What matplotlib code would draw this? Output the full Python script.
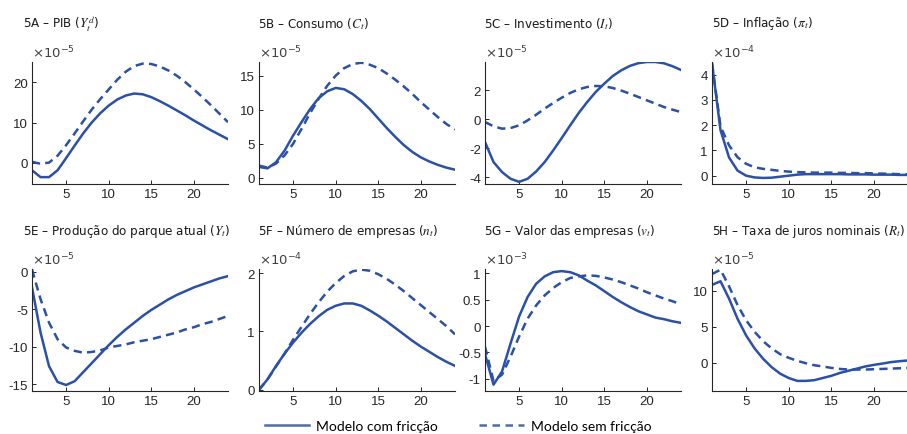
import numpy as np
import matplotlib
matplotlib.use("Agg")
import matplotlib.pyplot as plt
from matplotlib.lines import Line2D
from matplotlib import font_manager as fm

plt.rcParams["axes.unicode_minus"] = False
plt.rcParams["mathtext.fontset"] = "stix"

periodos = np.arange(1, 25)

# ====================== DADOS (respostas a impulso) ======================
# 5A - PIB (x 1e-5)
pib_com = [-1.8, -3.5, -3.5, -1.8, 1.2, 4.3, 7.3, 10.0, 12.3, 14.2, 15.7, 16.7,
           17.2, 17.0, 16.3, 15.3, 14.2, 13.0, 11.8, 10.5, 9.3, 8.1, 7.0, 5.9]
pib_sem = [0.3, -0.2, 0.1, 1.8, 4.4, 7.3, 10.3, 13.2, 15.8, 18.2, 20.6, 22.6,
           24.0, 24.6, 24.5, 23.9, 22.9, 21.6, 20.0, 18.2, 16.3, 14.3, 12.2, 10.1]

# 5B - Consumo (x 1e-5)
cons_com = [1.6, 1.4, 2.3, 4.0, 6.2, 8.2, 10.1, 11.7, 12.7, 13.2, 13.0, 12.3,
            11.3, 10.1, 8.7, 7.3, 6.0, 4.8, 3.8, 3.0, 2.4, 1.9, 1.5, 1.2]
cons_sem = [1.8, 1.5, 2.1, 3.3, 5.0, 7.2, 9.5, 11.6, 13.5, 15.0, 16.1, 16.7,
            16.9, 16.6, 16.1, 15.3, 14.4, 13.4, 12.3, 11.1, 10.0, 8.9, 7.9, 7.1]

# 5C - Investimento (x 1e-5)
inv_com = [-1.56, -2.94, -3.63, -4.09, -4.3, -4.09, -3.59, -2.94, -2.14, -1.29,
           -0.41, 0.44, 1.2, 1.89, 2.46, 2.99, 3.38, 3.68, 3.87, 3.95, 3.95,
           3.86, 3.66, 3.4]
inv_sem = [-0.18, -0.48, -0.64, -0.6, -0.41, -0.07, 0.32, 0.74, 1.13, 1.49,
           1.82, 2.07, 2.23, 2.3, 2.28, 2.16, 1.98, 1.77, 1.54, 1.31, 1.08,
           0.85, 0.67, 0.5]

# 5D - Inflação (x 1e-4)
infl_com = [4.45, 1.8, 0.72, 0.2, 0.0, -0.07, -0.09, -0.08, -0.04, 0.0, 0.04,
            0.06, 0.06, 0.06, 0.06, 0.06, 0.05, 0.05, 0.05, 0.04, 0.04, 0.04,
            0.03, 0.03]
infl_sem = [4.45, 1.95, 1.2, 0.73, 0.47, 0.33, 0.27, 0.23, 0.19, 0.16, 0.14,
            0.13, 0.12, 0.12, 0.12, 0.11, 0.11, 0.1, 0.1, 0.09, 0.08, 0.07,
            0.06, 0.05]

# 5E - Produção do parque atual (x 1e-5)
prod_com = [-2.1, -8.1, -12.6, -14.7, -15.1, -14.6, -13.4, -12.2, -11.0, -9.8,
            -8.7, -7.7, -6.8, -5.9, -5.1, -4.4, -3.7, -3.1, -2.6, -2.1, -1.7,
            -1.3, -0.9, -0.6]
prod_sem = [0.27, -3.65, -6.8, -9.0, -10.1, -10.55, -10.8, -10.7, -10.5, -10.1,
            -9.9, -9.7, -9.4, -9.2, -9.0, -8.7, -8.4, -8.1, -7.7, -7.4, -7.0,
            -6.7, -6.3, -5.9]

# 5F - Número de empresas (x 1e-4)
nemp_com = [0.0, 0.18, 0.41, 0.62, 0.81, 0.98, 1.13, 1.26, 1.37, 1.44, 1.48,
            1.48, 1.44, 1.36, 1.27, 1.17, 1.06, 0.95, 0.84, 0.74, 0.65, 0.56,
            0.48, 0.41]
nemp_sem = [0.0, 0.18, 0.4, 0.62, 0.86, 1.08, 1.3, 1.5, 1.68, 1.83, 1.95, 2.03,
            2.06, 2.04, 1.98, 1.9, 1.8, 1.69, 1.57, 1.45, 1.33, 1.21, 1.09, 0.95]

# 5G - Valor das empresas (x 1e-3)
valor_com = [-0.53, -1.11, -0.86, -0.33, 0.18, 0.55, 0.8, 0.94, 1.02, 1.04,
             1.02, 0.96, 0.86, 0.77, 0.66, 0.55, 0.45, 0.36, 0.28, 0.22, 0.16,
             0.13, 0.09, 0.06]
valor_sem = [-0.39, -1.04, -0.92, -0.58, -0.2, 0.14, 0.39, 0.58, 0.72, 0.83,
             0.91, 0.94, 0.96, 0.95, 0.92, 0.88, 0.83, 0.77, 0.71, 0.64, 0.58,
             0.52, 0.47, 0.41]

# 5H - Taxa de juros nominais (x 1e-5)
juros_com = [10.8, 11.3, 8.9, 6.1, 3.8, 2.0, 0.56, -0.6, -1.5, -2.1, -2.5, -2.5,
             -2.4, -2.1, -1.8, -1.4, -1.1, -0.8, -0.5, -0.28, -0.1, 0.1, 0.23,
             0.33]
juros_sem = [12.3, 12.9, 10.6, 8.0, 5.9, 4.3, 3.0, 2.0, 1.2, 0.7, 0.28, -0.05,
             -0.33, -0.5, -0.7, -0.84, -0.93, -0.93, -0.93, -0.88, -0.84, -0.8,
             -0.75, -0.7]

titulos = [
    r"5A – PIB ($Y_t^d$)",
    r"5B – Consumo ($C_t$)",
    r"5C – Investimento ($I_t$)",
    r"5D – Inflação ($\pi_t$)",
    r"5E – Produção do parque atual ($Y_t$)",
    r"5F – Número de empresas ($n_t$)",
    r"5G – Valor das empresas ($v_t$)",
    r"5H – Taxa de juros nominais ($R_t$)",
]
expoentes = [-5, -5, -5, -4, -5, -4, -3, -5]
series_com = [pib_com, cons_com, inv_com, infl_com, prod_com, nemp_com, valor_com, juros_com]
series_sem = [pib_sem, cons_sem, inv_sem, infl_sem, prod_sem, nemp_sem, valor_sem, juros_sem]

yticks = [[0, 10, 20], [0, 5, 10, 15], [-4, -2, 0, 2], [0, 1, 2, 3, 4],
          [-15, -10, -5, 0], [0, 1, 2], [-1, -0.5, 0, 0.5, 1], [0, 5, 10]]
ylims = [(-5.2, 25), (-0.9, 17.0), (-4.45, 3.95), (-0.33, 4.5),
         (-15.9, 0.35), (-0.02, 2.07), (-1.23, 1.08), (-3.9, 13.0)]

# fonte condensada para os títulos, se houver
prop_cond = fm.FontProperties(family="DejaVu Sans", stretch="condensed")
arq = fm.findfont(prop_cond, fallback_to_default=False)
if "Condensed" in arq:
    fonte_tit = dict(fontproperties=fm.FontProperties(fname=arq, size=9.5))
else:
    fonte_tit = dict(family="Liberation Sans", fontsize=9)

# ====================== FIGURA ======================
W, H = 907, 435
fig = plt.figure(figsize=(W / 100, H / 100), dpi=100)

cor = "#2B50A8"
cor_leg = "#4C6DA8"
cinza = "#262626"

lefts = [32, 259, 485, 712]
tops = [63, 270]
ax_w, ax_h = 196, 122
tit_x = [23, 258, 484, 712]
tit_y = [24, 232]

for i in range(8):
    row, col = divmod(i, 4)
    ax = fig.add_axes([lefts[col] / W, 1 - (tops[row] + ax_h) / H, ax_w / W, ax_h / H])
    ax.plot(periodos, series_com[i], color=cor, lw=1.8)
    ax.plot(periodos, series_sem[i], color=cor, lw=1.8, ls=(0, (3.3, 2.1)))
    ax.set_xlim(1, 24)
    ax.set_ylim(*ylims[i])
    ax.set_xticks([5, 10, 15, 20])
    ax.set_yticks(yticks[i])
    ax.set_yticklabels([f"{v:g}" for v in yticks[i]])
    for s in ["top", "right"]:
        ax.spines[s].set_visible(False)
    for s in ["left", "bottom"]:
        ax.spines[s].set_color(cinza)
        ax.spines[s].set_linewidth(0.8)
    ax.tick_params(direction="in", length=3, width=0.7, colors=cinza,
                   labelsize=9.5, pad=3)
    for lab in ax.get_xticklabels() + ax.get_yticklabels():
        lab.set_family("Liberation Sans")
    ax.text(0.0, 1.015, r"$\times 10^{%d}$" % expoentes[i], transform=ax.transAxes,
            fontsize=9.5, color="#404040", ha="left", va="bottom",
            family="Liberation Sans", math_fontfamily="dejavusans")
    fig.text(tit_x[col] / W, 1 - tit_y[row] / H, titulos[i],
             color="#1a1a1a", ha="left", va="center", **fonte_tit)

# ====================== LEGENDA ======================
handles = [Line2D([], [], color=cor_leg, lw=1.8),
           Line2D([], [], color=cor_leg, lw=1.8, ls=(0, (3, 2.2)))]
fig.legend(handles, ["Modelo com fricção", "Modelo sem fricção"],
           loc="center", bbox_to_anchor=(458 / W, 1 - 427 / H), ncol=2,
           frameon=False, handlelength=3.2, columnspacing=3.0, handletextpad=0.5,
           prop={"family": "Lato", "size": 10})

fig.savefig("out.png", dpi=100)
